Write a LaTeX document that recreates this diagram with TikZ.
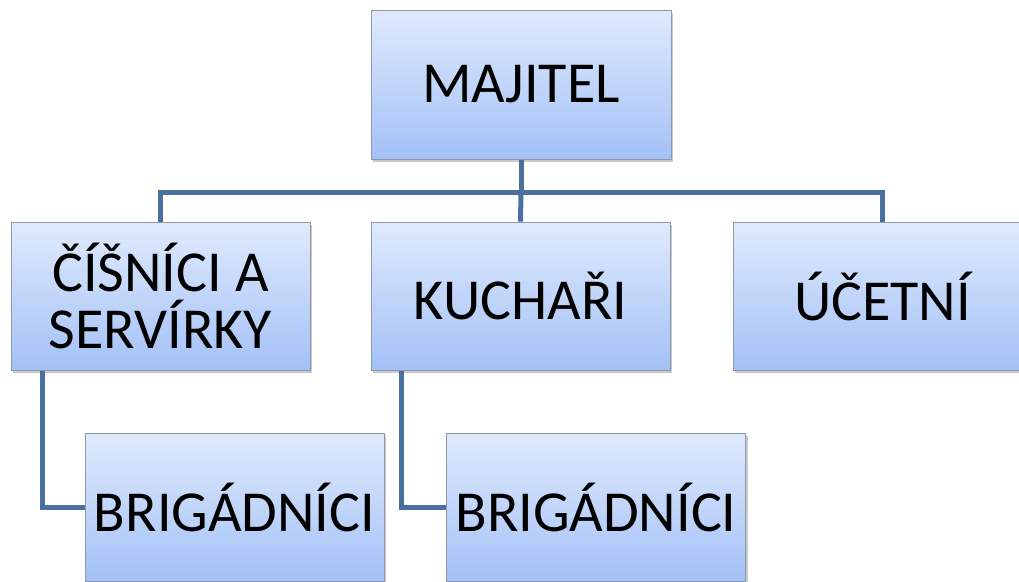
\documentclass[tikz,border=0pt]{standalone}
\usepackage{fontspec}
\setmainfont{Carlito}
\usetikzlibrary{shadows,backgrounds}
\definecolor{boxtop}{HTML}{E0EAFC}
\definecolor{boxbot}{HTML}{A3C1F7}
\definecolor{boxline}{HTML}{8E98A8}
\definecolor{linkc}{HTML}{4A70A2}
\begin{document}
\begin{tikzpicture}[x=1pt,y=-1pt,
  orgbox/.style={draw=boxline, line width=0.8pt, top color=boxtop, bottom color=boxbot,
    minimum width=299pt, minimum height=148pt, inner sep=0pt, align=center, text=black,
    drop shadow={opacity=0.35, shadow xshift=2pt, shadow yshift=-2.5pt, fill=black!60}},
  bigtext/.style={font=\fontsize{58}{60}\selectfont},
  midtext/.style={font=\fontsize{58}{57}\selectfont},
  link/.style={draw=linkc, line width=5pt}]
\useasboundingbox (0,0) rectangle (1019,581);

% boxes
\node[orgbox, bigtext, minimum height=149pt, minimum width=300pt] (own) at (521,84.5) {MAJITEL};
\node[orgbox, midtext] (cis)  at (160.5,296) {ČÍŠNÍCI A\\SERVÍRKY};
\node[orgbox, midtext] (kuch) at (520.5,296) {KUCHAŘI};
\node[orgbox, midtext] (ucet) at (882.5,296) {ÚČETNÍ};
\node[orgbox, bigtext] (brig1) at (234.5,507) {BRIGÁDNÍCI};
\node[orgbox, bigtext] (brig2) at (596,507) {BRIGÁDNÍCI};

% connectors
\begin{pgfonlayer}{background}
  \draw[link] (own.south) -- ++(0,33) coordinate (hub);
  \draw[link] (cis.north) |- (hub) -| (ucet.north);
  \draw[link] (hub) -- (kuch.north);
  \draw[link] ([xshift=32pt]cis.south west) |- (brig1.west);
  \draw[link] ([xshift=31pt]kuch.south west) |- (brig2.west);
\end{pgfonlayer}
\end{tikzpicture}
\end{document}
